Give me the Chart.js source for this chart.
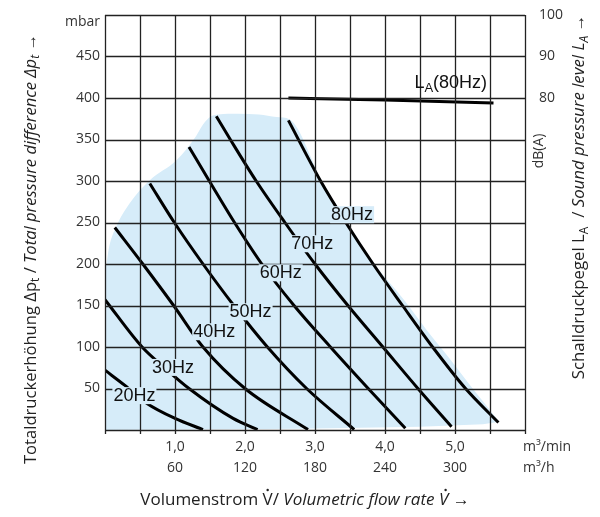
<!DOCTYPE html>
<html lang="de">
<head>
<meta charset="UTF-8">
<title>Kennlinienfeld Gebläse</title>
<script src="https://cdn.jsdelivr.net/npm/chart.js"></script>
<style>
    html, body { margin: 0; padding: 0; background: #fff; }
    .chart-box { width: 600px; height: 517px; }
</style>
</head>
<body>
<div class="chart-box"><canvas id="kennlinie" width="600" height="517"></canvas></div>
<script>
    // Kennlinien: [Volumenstrom m3/min, Totaldruck mbar]
    const curve20Hz = [[0, 72], [0.28, 54], [0.6, 32], [1.0, 14], [1.4, 0.5]];
    const curve30Hz = [[0, 157], [0.53, 100], [0.85, 75], [1.2, 50], [1.83, 14], [2.18, 0.5]];
    const curve40Hz = [[0.14, 244], [0.54, 200], [0.98, 150], [1.4, 100], [2.0, 50], [2.9, 0.5]];
    const curve50Hz = [[0.64, 297], [0.99, 250], [1.4, 200], [1.84, 150], [2.32, 100], [2.88, 50], [3.56, 0.5]];
    const curve60Hz = [[1.2, 341], [1.49, 300], [1.85, 250], [2.24, 200], [2.7, 150], [3.22, 100], [3.76, 50], [4.29, 2]];
    const curve70Hz = [[1.59, 378], [1.79, 350], [2.16, 300], [2.57, 250], [3.0, 200], [3.47, 150], [3.97, 100], [4.47, 50], [4.95, 4]];
    const curve80Hz = [[2.62, 373], [3.08, 300], [3.44, 250], [3.83, 200], [4.25, 150], [4.68, 100], [5.15, 50], [5.62, 9]];

    // Schalldruckpegel bei 80Hz: [m3/min, dB(A)]
    const soundLevel80Hz = [[2.62, 80.0], [4.0, 79.5], [5.55, 78.8]];

    // Arbeitsbereich (blau): obere und untere Begrenzung
    const rangeTop = [[0, 190], [0.02, 200], [0.06, 221], [0.16, 245], [0.35, 273], [0.64, 301], [1.02, 325],
        [1.3, 354], [1.4, 368], [1.5, 377], [1.62, 380], [1.9, 381], [2.2, 380], [2.45, 377], [2.64, 374],
        [3.1, 300], [3.46, 250], [3.85, 200], [4.27, 157], [4.6, 120], [4.84, 95], [5.07, 70],
        [5.3, 45], [5.49, 25], [5.63, 10]];
    const rangeBottom = [[0, 0], [2.8, 1.5], [4.5, 4], [5.4, 7], [5.63, 10]];

    const curveNames = ['20Hz', '30Hz', '40Hz', '50Hz', '60Hz', '70Hz', '80Hz'];
    const curveLabelAt = [[0.42, 42], [0.97, 76], [1.56, 119], [2.08, 143], [2.51, 190], [2.96, 225], [3.53, 260]];

    const flowTicks = [1, 2, 3, 4, 5];
    const flowTicksMin = ['1,0', '2,0', '3,0', '4,0', '5,0'];
    const flowTicksHour = ['60', '120', '180', '240', '300'];
    const pressureTicks = [50, 100, 150, 200, 250, 300, 350, 400, 450];
    const soundTicks = [80, 90, 100];

    const FONT = '"Open Sans", "Noto Sans", sans-serif';
    const LABEL_FONT = '"Liberation Sans", Arial, sans-serif';
    const INK = '#222';
    const AREA = '#d6ecf9';

    function toPoints(arr) {
        return arr.map(p => ({ x: p[0], y: p[1] }));
    }

    // Text mit normal/kursiv/tiefgestellt gemischt
    function drawRich(ctx, parts, cx, cy, size, angle) {
        ctx.save();
        ctx.translate(cx, cy);
        ctx.rotate(angle);
        const fontFor = p => (p.it ? 'italic ' : '') + (p.sub ? Math.round(size * 0.72) : size) + 'px ' + FONT;
        let total = 0;
        parts.forEach(p => { ctx.font = fontFor(p); p.w = ctx.measureText(p.t).width; total += p.w; });
        let pos = -total / 2;
        const base = size * 0.35;
        ctx.textAlign = 'left';
        ctx.textBaseline = 'alphabetic';
        ctx.fillStyle = INK;
        parts.forEach(p => {
            ctx.font = fontFor(p);
            ctx.fillText(p.t, pos, base + (p.sub ? size * 0.22 : 0));
            if (p.dot) {
                ctx.beginPath();
                ctx.arc(pos + p.w / 2 + (p.it ? 2 : 0), base - size * 0.88, 1.2, 0, Math.PI * 2);
                ctx.fill();
            }
            pos += p.w;
        });
        ctx.restore();
    }

    // Raster über Fläche und Kennlinien, danach die Beschriftungen
    const beschriftung = {
        id: 'beschriftung',
        afterDraw(chart) {
            const ctx = chart.ctx;
            const a = chart.chartArea;
            const sx = chart.scales.x, sy = chart.scales.y, sy2 = chart.scales.y2;

            ctx.save();
            ctx.globalCompositeOperation = 'source-over';
            ctx.setLineDash([]);
            ctx.lineWidth = 1.3;
            ctx.strokeStyle = INK;
            sx.ticks.forEach(t => {
                const px = Math.round(sx.getPixelForValue(t.value)) + 0.5;
                ctx.beginPath();
                ctx.moveTo(px, a.top);
                ctx.lineTo(px, a.bottom + 4);
                ctx.stroke();
            });
            sy.ticks.forEach(t => {
                const py = Math.round(sy.getPixelForValue(t.value)) + 0.5;
                ctx.beginPath();
                ctx.moveTo(a.left, py);
                ctx.lineTo(a.right, py);
                ctx.stroke();
            });

            // Frequenz-Beschriftungen der Kennlinien
            ctx.font = '18px ' + LABEL_FONT;
            ctx.textAlign = 'center';
            ctx.textBaseline = 'middle';
            curveNames.forEach((name, i) => {
                const px = sx.getPixelForValue(curveLabelAt[i][0]);
                const py = sy.getPixelForValue(curveLabelAt[i][1]);
                const w = ctx.measureText(name).width;
                ctx.fillStyle = AREA;
                ctx.fillRect(px - w / 2 - 1, py - 8, w + 2, 17);
                ctx.fillStyle = '#111';
                ctx.fillText(name, px, py + 1);
            });

            // L_A(80Hz)
            ctx.textAlign = 'left';
            ctx.textBaseline = 'alphabetic';
            let lx = sx.getPixelForValue(4.42);
            const ly = sy2.getPixelForValue(82.5);
            ctx.fillStyle = '#111';
            ctx.fillText('L', lx, ly);
            lx += ctx.measureText('L').width;
            ctx.font = '13px ' + LABEL_FONT;
            ctx.fillText('A', lx, ly + 4);
            lx += ctx.measureText('A').width;
            ctx.font = '18px ' + LABEL_FONT;
            ctx.fillText('(80Hz)', lx, ly);

            // Einheiten
            ctx.font = '14px ' + FONT;
            ctx.fillStyle = '#333';
            ctx.textAlign = 'right';
            ctx.textBaseline = 'middle';
            ctx.fillText('mbar', 100, 22);
            ctx.textAlign = 'left';
            ctx.fillText('m³/min', 523, 447);
            ctx.fillText('m³/h', 523, 468);

            ctx.translate(539, 151);
            ctx.rotate(-Math.PI / 2);
            ctx.textAlign = 'center';
            ctx.fillText('dB(A)', 0, 0);
            ctx.restore();

            // Achsentitel
            drawRich(ctx, [
                { t: 'Totaldruckerhöhung Δp' }, { t: 't', sub: true }, { t: ' / ' },
                { t: 'Total pressure difference Δp', it: true }, { t: 't', it: true, sub: true }, { t: ' →' }
            ], 30, 249, 16.6, -Math.PI / 2);
            drawRich(ctx, [
                { t: 'Schalldruckpegel L' }, { t: 'A', sub: true }, { t: '  / ' },
                { t: 'Sound pressure level L', it: true }, { t: 'A', it: true, sub: true }, { t: ' →' }
            ], 578, 197, 16.8, -Math.PI / 2);
            drawRich(ctx, [
                { t: 'Volumenstrom ' }, { t: 'V', dot: true }, { t: '/ ' },
                { t: 'Volumetric flow rate ', it: true }, { t: 'V', it: true, dot: true }, { t: ' →' }
            ], 305, 499, 17, 0);
        }
    };

    const curves = [curve20Hz, curve30Hz, curve40Hz, curve50Hz, curve60Hz, curve70Hz, curve80Hz];
    const datasets = curves.map(c => ({
        data: toPoints(c),
        showLine: true,
        borderColor: '#000',
        borderWidth: 3,
        pointRadius: 0,
        cubicInterpolationMode: 'monotone',
        fill: false,
        order: 1
    }));
    datasets.push({
        data: toPoints(soundLevel80Hz),
        yAxisID: 'y2',
        showLine: true,
        borderColor: '#000',
        borderWidth: 3,
        pointRadius: 0,
        cubicInterpolationMode: 'monotone',
        fill: false,
        order: 1
    });
    datasets.push({
        data: toPoints(rangeTop),
        showLine: true,
        borderColor: 'rgba(0,0,0,0)',
        borderWidth: 0,
        backgroundColor: AREA,
        pointRadius: 0,
        cubicInterpolationMode: 'monotone',
        fill: '+1',
        order: 10
    });
    datasets.push({
        data: toPoints(rangeBottom),
        showLine: true,
        borderColor: 'rgba(0,0,0,0)',
        borderWidth: 0,
        pointRadius: 0,
        fill: false,
        order: 11
    });

    new Chart(document.getElementById('kennlinie'), {
        type: 'scatter',
        data: { datasets: datasets },
        options: {
            responsive: false,
            animation: false,
            events: [],
            layout: { padding: { top: 15 } },
            plugins: {
                legend: { display: false },
                tooltip: { enabled: false }
            },
            scales: {
                x: {
                    type: 'linear',
                    min: 0,
                    max: 6,
                    afterFit: s => { s.height = 87; },
                    ticks: {
                        stepSize: 0.5,
                        autoSkip: false,
                        maxRotation: 0,
                        padding: 3,
                        color: '#333',
                        font: { family: FONT, size: 14, lineHeight: 1.5 },
                        callback: v => {
                            const i = flowTicks.indexOf(v);
                            return i < 0 ? '' : [flowTicksMin[i], flowTicksHour[i]];
                        }
                    },
                    grid: { color: INK, drawOnChartArea: false, tickLength: 4 }
                },
                y: {
                    min: 0,
                    max: 500,
                    afterFit: s => { s.width = 105; },
                    ticks: {
                        stepSize: 50,
                        padding: 5,
                        color: '#333',
                        font: { family: FONT, size: 14 },
                        callback: v => pressureTicks.includes(v) ? String(v) : ''
                    },
                    grid: { color: INK, drawOnChartArea: false, drawTicks: false }
                },
                y2: {
                    position: 'right',
                    min: 0,
                    max: 100,
                    afterFit: s => { s.width = 75; },
                    ticks: {
                        stepSize: 10,
                        padding: 6,
                        color: '#333',
                        font: { family: FONT, size: 14 },
                        callback: v => soundTicks.includes(v) ? String(v) : ''
                    },
                    grid: { display: false }
                }
            }
        },
        plugins: [beschriftung]
    });
</script>
</body>
</html>
